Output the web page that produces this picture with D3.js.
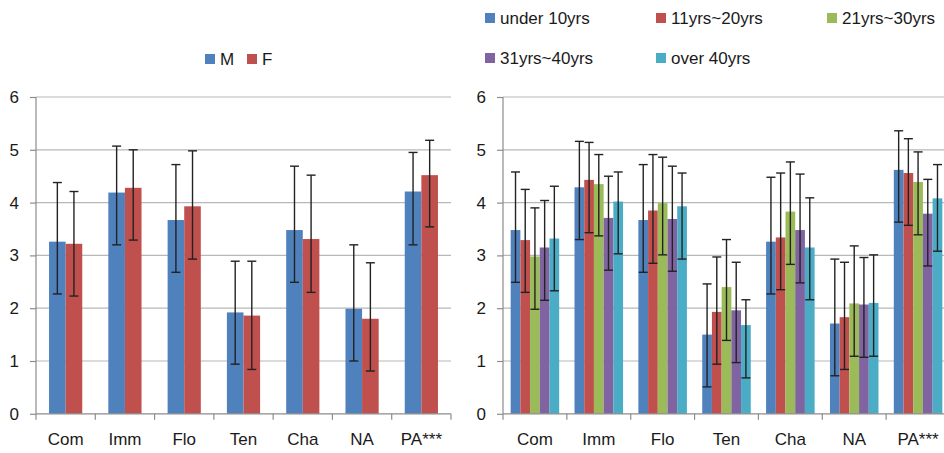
<!DOCTYPE html>
<html>
<head>
<meta charset="utf-8">
<script src="https://cdn.jsdelivr.net/npm/d3@7"></script>
<style>
  body { margin: 0; background: #fff; }
  svg { display: block; font-family: "Liberation Sans", sans-serif; }
</style>
</head>
<body>
<div id="chart"></div>
<script>
// categories shared by both panels
const categories = ["Com", "Imm", "Flo", "Ten", "Cha", "NA", "PA***"];
const yTicks = [0, 1, 2, 3, 4, 5, 6];

// left panel: gender
const genderNames = ["M", "F"];
const genderMean = [
  [3.26, 4.19, 3.67, 1.92, 3.48, 1.99, 4.21],
  [3.22, 4.28, 3.93, 1.86, 3.31, 1.80, 4.52]
];
const genderHigh = [
  [4.38, 5.07, 4.72, 2.89, 4.69, 3.20, 4.95],
  [4.21, 5.00, 4.98, 2.89, 4.52, 2.86, 5.18]
];
const genderLow = [
  [2.27, 3.20, 2.68, 0.94, 2.49, 1.00, 3.20],
  [2.23, 3.29, 2.93, 0.84, 2.30, 0.81, 3.54]
];

// right panel: years
const ageNames = ["under 10yrs", "11yrs~20yrs", "21yrs~30yrs", "31yrs~40yrs", "over 40yrs"];
const ageMean = [
  [3.48, 4.29, 3.67, 1.50, 3.26, 1.71, 4.62],
  [3.29, 4.43, 3.85, 1.93, 3.34, 1.83, 4.56],
  [2.98, 4.35, 3.99, 2.40, 3.83, 2.09, 4.39],
  [3.15, 3.71, 3.69, 1.96, 3.48, 2.07, 3.79],
  [3.32, 4.02, 3.93, 1.68, 3.15, 2.10, 4.08]
];
const ageHigh = [
  [4.58, 5.16, 4.72, 2.46, 4.48, 2.93, 5.36],
  [4.25, 5.14, 4.91, 2.97, 4.56, 2.87, 5.21],
  [3.90, 4.91, 4.86, 3.30, 4.77, 3.18, 4.96],
  [4.04, 4.50, 4.69, 2.87, 4.54, 2.96, 4.44],
  [4.31, 4.58, 4.56, 2.16, 4.09, 3.01, 4.72]
];
const ageLow = [
  [2.49, 3.30, 2.68, 0.51, 2.27, 0.72, 3.63],
  [2.30, 3.43, 2.85, 0.94, 2.35, 0.84, 3.57],
  [1.98, 3.37, 3.01, 1.39, 2.83, 1.09, 3.39],
  [2.15, 2.72, 2.70, 0.97, 2.48, 1.07, 2.80],
  [2.33, 3.03, 2.93, 0.68, 2.16, 1.09, 3.08]
];

const colors = ["#4F81BD", "#C0504D", "#9BBB59", "#8064A2", "#4BACC6"];

const width = 944, height = 453;
const fontSize = "17px";
const svg = d3.select("#chart").append("svg")
    .attr("width", width)
    .attr("height", height);

const y = d3.scaleLinear().domain([0, 6]).range([413.8, 97]);

function drawPanel(props) {
  let g = svg.append("g");

  let x = d3.scaleBand()
      .domain(categories)
      .range([props.x0, props.x1]);

  let xs = d3.scaleBand()
      .domain(d3.range(props.names.length))
      .range([x.bandwidth() * props.pad, x.bandwidth() * (1 - props.pad)]);

  // gridlines
  g.selectAll(".grid")
    .data(yTicks.filter(t => t > 0))
    .enter().append("line")
      .attr("x1", props.x0).attr("x2", props.x1)
      .attr("y1", d => y(d)).attr("y2", d => y(d))
      .attr("stroke", "#b8b8b8").attr("stroke-width", 1.2);

  // bars
  props.names.forEach((name, s) => {
    g.selectAll(".bar" + s)
      .data(categories)
      .enter().append("rect")
        .attr("x", d => x(d) + xs(s))
        .attr("y", (d, i) => y(props.mean[s][i]))
        .attr("width", xs.bandwidth())
        .attr("height", (d, i) => y(0) - y(props.mean[s][i]))
        .attr("fill", colors[s]);
  });

  // error bars
  props.names.forEach((name, s) => {
    let cx = d => x(d) + xs(s) + xs.bandwidth() / 2;
    let eb = g.selectAll(".err" + s)
      .data(categories)
      .enter().append("g")
        .attr("stroke", "#222").attr("stroke-width", 1.4);
    eb.append("line")
      .attr("x1", cx).attr("x2", cx)
      .attr("y1", (d, i) => y(props.high[s][i]))
      .attr("y2", (d, i) => y(props.low[s][i]));
    eb.append("line")
      .attr("x1", d => cx(d) - 4.5).attr("x2", d => cx(d) + 4.5)
      .attr("y1", (d, i) => y(props.high[s][i]))
      .attr("y2", (d, i) => y(props.high[s][i]));
    eb.append("line")
      .attr("x1", d => cx(d) - 4.5).attr("x2", d => cx(d) + 4.5)
      .attr("y1", (d, i) => y(props.low[s][i]))
      .attr("y2", (d, i) => y(props.low[s][i]));
  });

  // y axis
  let yAxis = g.append("g")
      .attr("transform", "translate(" + props.x0 + ",0)")
      .call(d3.axisLeft(y).tickValues(yTicks).tickFormat(d3.format("d"))
        .tickSize(6).tickPadding(11));
  yAxis.select(".domain").attr("stroke", "#8c8c8c").attr("stroke-width", 1.2)
      .attr("d", "M0," + y(6) + "V" + y(0));
  yAxis.selectAll(".tick line").attr("stroke", "#8c8c8c").attr("stroke-width", 1.2);
  yAxis.selectAll("text").attr("font-size", fontSize).attr("fill", "#1a1a1a")
      .attr("font-family", "Liberation Sans");

  // x axis
  let xAxis = g.append("g")
      .attr("transform", "translate(0," + y(0) + ")")
      .call(d3.axisBottom(x).tickSize(0).tickPadding(19));
  xAxis.select(".domain").attr("stroke", "#8c8c8c").attr("stroke-width", 1.2)
      .attr("d", "M" + props.x0 + ",0H" + props.x1);
  xAxis.selectAll("text").attr("font-size", fontSize).attr("fill", "#1a1a1a")
      .attr("font-family", "Liberation Sans");
  g.selectAll(".xtick")
    .data(categories.concat(["end"]))
    .enter().append("line")
      .attr("x1", (d, i) => props.x0 + i * x.bandwidth())
      .attr("x2", (d, i) => props.x0 + i * x.bandwidth())
      .attr("y1", y(0)).attr("y2", y(0) + 6)
      .attr("stroke", "#8c8c8c").attr("stroke-width", 1.2);

  // legend
  let leg = g.selectAll(".legend")
    .data(props.names)
    .enter().append("g")
      .attr("transform", (d, i) => "translate(" + props.legend(i) + ")");
  leg.append("rect")
    .attr("x", 0).attr("y", -5)
    .attr("width", 10).attr("height", 10)
    .attr("fill", (d, i) => colors[i]);
  leg.append("text")
    .attr("x", 15).attr("dy", "0.35em")
    .attr("font-size", fontSize).attr("fill", "#1a1a1a")
    .text(d => d);
}

drawPanel({
  names: genderNames, mean: genderMean, high: genderHigh, low: genderLow,
  x0: 36, x1: 451, pad: 0.22,
  legend: i => [205 + i * 42, 59]
});

drawPanel({
  names: ageNames, mean: ageMean, high: ageHigh, low: ageLow,
  x0: 503, x1: 950, pad: 0.12,
  legend: i => [485 + (i % 3) * 171, 18 + Math.floor(i / 3) * 40]
});
</script>
</body>
</html>
